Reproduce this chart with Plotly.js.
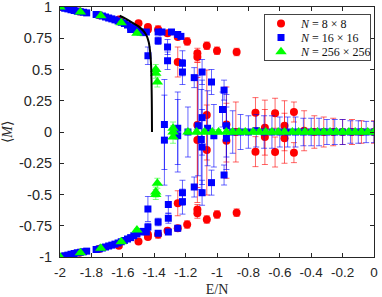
<!DOCTYPE html>
<html>
<head>
<meta charset="utf-8">
<script src="https://cdn.plot.ly/plotly-3.0.1.min.js"></script>
<style>html,body{margin:0;padding:0;background:#fff;}#chart{width:382px;height:297px;}</style>
</head>
<body>
<div id="chart"></div>
<script>
// ---- N = 8 x 8 (red circles) ----
var redX = [-2, -2, -1.875, -1.875, -1.75, -1.75, -1.625, -1.625, -1.5, -1.5,
  -1.44, -1.44, -1.44, -1.44, -1.375, -1.375, -1.315, -1.315, -1.25, -1.25, -1.25, -1.25,
  -1.19, -1.19, -1.125, -1.125, -1.125, -1.125, -1.065, -1.065, -1.0, -1.0, -0.875, -0.875,
  -1.125, -1.125, -1.065, -1.065, -0.94, -0.94, -0.88,
  -0.755, -0.755, -0.695, -0.695, -0.63, -0.63, -0.57, -0.57, -0.51, -0.51,
  -0.445, -0.38, -0.32, -0.26, -0.2, -0.14, -0.08, 0];
var redY = [1, -1, 0.965, -0.965, 0.935, -0.935, 0.9, -0.91, 0.87, -0.875,
  0.84, 0.82, -0.84, -0.82, 0.82, -0.82, 0.79, -0.79, 0.76, -0.77, 0.56, -0.57,
  0.725, -0.74, 0.63, 0.6, -0.62, -0.65, 0.69, -0.7, 0.65, -0.66, 0.64, -0.645,
  0.056, -0.064, 0.136, -0.144, 0.06, -0.07, 0.0,
  0.155, -0.157, 0.035, -0.04, 0.15, -0.16, 0.05, -0.05, 0.16, -0.165,
  0.01, 0.0, 0.0, 0.0, 0.0, 0.0, 0.0, 0.0];
var redErr = [0, 0, 0.01, 0.01, 0.01, 0.01, 0.01, 0.01, 0.015, 0.015,
  0.02, 0.02, 0.02, 0.02, 0.03, 0.03, 0.02, 0.02, 0.02, 0.02, 0.12, 0.1,
  0.03, 0.03, 0.04, 0.04, 0.04, 0.04, 0.03, 0.03, 0.03, 0.03, 0.03, 0.03,
  0.5, 0.5, 0.36, 0.36, 0.3, 0.3, 0.24,
  0.12, 0.12, 0.22, 0.22, 0.12, 0.12, 0.2, 0.2, 0.08, 0.08,
  0.16, 0.13, 0.12, 0.11, 0.1, 0.1, 0.09, 0.09];

// ---- N = 16 x 16 (blue squares) ----
var blueX = [-1.99, -1.97, -1.95, -1.93, -1.91, -1.89, -1.87, -1.85, -1.83,
  -1.77, -1.75, -1.73, -1.71, -1.69, -1.67, -1.65, -1.63, -1.61, -1.59, -1.57, -1.55, -1.55, -1.53, -1.51, -1.49, -1.47, -1.45,
  -1.44, -1.375, -1.375, -1.35, -1.315, -1.315, -1.29, -1.25, -1.23, -1.22, -1.22, -1.145, -1.095, -1.035, -0.955,
  -1.99, -1.97, -1.95, -1.93, -1.91, -1.89, -1.87, -1.85, -1.83,
  -1.77, -1.75, -1.73, -1.71, -1.69, -1.67, -1.65, -1.63, -1.61, -1.59, -1.57, -1.55, -1.53, -1.51, -1.49, -1.47, -1.45,
  -1.44, -1.44, -1.375, -1.375, -1.31, -1.31, -1.31, -1.25, -1.22, -1.22, -1.145, -1.095, -1.035, -0.955,
  -1.335, -1.335, -1.25, -1.25, -1.185, -1.12, -1.1, -1.095, -1.095, -1.06, -1.02, -0.965, -0.94, -0.94,
  -0.9, -0.85, -0.8, -0.75, -0.7, -0.65, -0.6, -0.55, -0.5, -0.45, -0.4, -0.35, -0.3, -0.25, -0.2, -0.15, -0.1, -0.05, 0];
var blueY = [0.998, 0.99, 0.985, 0.978, 0.972, 0.966, 0.962, 0.958, 0.953,
  0.94, 0.935, 0.928, 0.92, 0.912, 0.905, 0.897, 0.888, 0.878, 0.868, 0.856, 0.842, 0.82, 0.83, 0.815, 0.8, 0.795, 0.8,
  0.61, 0.8, 0.73, 0.8, 0.68, 0.57, 0.8, 0.78, 0.765, 0.55, 0.48, 0.435, 0.48, 0.4, 0.335,
  -0.998, -0.99, -0.985, -0.978, -0.972, -0.966, -0.962, -0.958, -0.953,
  -0.94, -0.935, -0.928, -0.92, -0.912, -0.905, -0.897, -0.888, -0.878, -0.868, -0.856, -0.845, -0.83, -0.815, -0.8, -0.795, -0.8,
  -0.616, -0.76, -0.72, -0.81, -0.58, -0.69, -0.8, -0.77, -0.486, -0.557, -0.44, -0.486, -0.405, -0.344,
  0.06, -0.065, 0.03, -0.03, 0.0, 0.05, -0.06, 0.115, -0.12, 0.03, -0.03, 0.18, 0.05, -0.05,
  0, 0, 0, 0.01, 0, 0, 0, 0, 0, 0, 0, 0, 0, 0, 0, 0, 0, 0, 0];
var blueErr = [0.005, 0.005, 0.005, 0.005, 0.005, 0.005, 0.005, 0.005, 0.005,
  0.01, 0.01, 0.01, 0.01, 0.01, 0.01, 0.01, 0.01, 0.01, 0.01, 0.01, 0.01, 0.01, 0.01, 0.01, 0.01, 0.01, 0.01,
  0.07, 0.02, 0.03, 0.02, 0.06, 0.07, 0.02, 0.02, 0.02, 0.1, 0.1, 0.08, 0.1, 0.1, 0.08,
  0.005, 0.005, 0.005, 0.005, 0.005, 0.005, 0.005, 0.005, 0.005,
  0.01, 0.01, 0.01, 0.01, 0.01, 0.01, 0.01, 0.01, 0.01, 0.01, 0.01, 0.01, 0.01, 0.01, 0.01, 0.01, 0.01,
  0.1, 0.03, 0.03, 0.02, 0.07, 0.04, 0.02, 0.02, 0.1, 0.1, 0.08, 0.1, 0.1, 0.08,
  0.36, 0.36, 0.29, 0.29, 0.2, 0.4, 0.4, 0.3, 0.3, 0.3, 0.25, 0.14, 0.25, 0.25,
  0.17, 0.14, 0.13, 0.13, 0.13, 0.13, 0.12, 0.12, 0.12, 0.11, 0.11, 0.11, 0.1, 0.1, 0.1, 0.09, 0.09, 0.085, 0.085];

// ---- N = 256 x 256 (green triangles) ----
var greenX = [-2, -1.87, -1.74, -1.61, -1.51, -1.39, -1.39, -1.38,
  -2, -1.87, -1.74, -1.61, -1.51, -1.39, -1.39, -1.38,
  -1.28, -1.28, -1.28, -1.185, -1.13, -1.08, -1.03, -0.99, -0.94, -0.9, -0.86, -0.82, -0.77, -0.73, -0.69, -0.65, -0.61,
  -0.57, -0.52, -0.48, -0.44, -0.4, -0.36, -0.32, -0.28, -0.24, -0.2, -0.16, -0.12, -0.08, -0.04, 0];
var greenY = [1, 0.96, 0.93, 0.875, 0.79, 0.5, 0.47, 0.4,
  -1, -0.965, -0.93, -0.878, -0.784, -0.5, -0.48, -0.41,
  0.03, 0.0, -0.04, 0, 0, 0, 0, 0, 0, 0, 0, 0, 0, 0, 0, 0, 0,
  0, 0, 0, 0, 0, 0, 0, 0, 0, 0, 0, 0, 0, 0, 0];
var greenErr = [0, 0.005, 0.005, 0.01, 0.01, 0.04, 0.04, 0.04,
  0, 0.005, 0.005, 0.01, 0.01, 0.04, 0.04, 0.04,
  0.05, 0.05, 0.05, 0.02, 0.02, 0.02, 0.02, 0.02, 0.02, 0.02, 0.02, 0.02, 0.02, 0.02, 0.02, 0.02, 0.02,
  0.02, 0.02, 0.02, 0.02, 0.02, 0.02, 0.02, 0.02, 0.02, 0.02, 0.02, 0.02, 0.02, 0.02, 0.02];

// ---- exact curve (black line) ----
var exactX = [-1.62, -1.58, -1.54, -1.5, -1.47, -1.45, -1.435, -1.425, -1.42, -1.417, -1.415, -1.414];
var exactY = [0.93, 0.905, 0.875, 0.845, 0.81, 0.775, 0.72, 0.63, 0.54, 0.4, 0.2, 0.0];

var seriesNames = ['<i>N</i> = 8 × 8', '<i>N</i> = 16 × 16', '<i>N</i> = 256 × 256'];
var xTicks = [-2, -1.8, -1.6, -1.4, -1.2, -1, -0.8, -0.6, -0.4, -0.2, 0];
var xTickText = ['-2', '-1.8', '-1.6', '-1.4', '-1.2', '-1', '-0.8', '-0.6', '-0.4', '-0.2', '0'];
var yTicks = [-1, -0.75, -0.5, -0.25, 0, 0.25, 0.5, 0.75, 1];
var yTickText = ['-1', '-0.75', '-0.5', '-0.25', '0', '0.25', '0.5', '0.75', '1'];

var axisColor = '#262626';
var traces = [
  {x: redX, y: redY, type: 'scatter', mode: 'markers', name: seriesNames[0],
   marker: {symbol: 'circle', size: 8, color: '#ff0000'},
   error_y: {type: 'data', array: redErr, visible: true, color: 'rgba(255,0,0,0.6)', thickness: 1, width: 3}},
  {x: blueX, y: blueY, type: 'scatter', mode: 'markers', name: seriesNames[1],
   marker: {symbol: 'square', size: 7, color: '#0000ff'},
   error_y: {type: 'data', array: blueErr, visible: true, color: 'rgba(0,0,255,0.6)', thickness: 1, width: 3}},
  {x: greenX, y: greenY, type: 'scatter', mode: 'markers', name: seriesNames[2],
   marker: {symbol: 'triangle-up', size: 10, color: '#00ff00'},
   error_y: {type: 'data', array: greenErr, visible: true, color: 'rgba(0,255,0,0.5)', thickness: 1, width: 3}},
  {x: exactX, y: exactY, type: 'scatter', mode: 'lines', showlegend: false,
   line: {color: '#000000', width: 2, shape: 'spline'}}
];

var layout = {
  width: 382, height: 297,
  margin: {l: 60, r: 3, t: 7, b: 40},
  paper_bgcolor: '#ffffff', plot_bgcolor: '#ffffff',
  font: {family: 'Liberation Sans, Arial, sans-serif', size: 13, color: axisColor},
  xaxis: {range: [-2, 0], tickvals: xTicks, ticktext: xTickText, ticks: 'inside', ticklen: 4,
    tickcolor: axisColor, showline: true, linecolor: axisColor, linewidth: 1, mirror: 'ticks',
    showgrid: false, zeroline: false, ticklabelstandoff: 3, ticklabeloverflow: 'allow',
    tickfont: {size: 13.5},
    title: {text: 'E/N', font: {family: 'Liberation Serif, serif', size: 14, color: axisColor}, standoff: 4}},
  yaxis: {range: [-1, 1], tickvals: yTicks, ticktext: yTickText, ticks: 'inside', ticklen: 4,
    tickcolor: axisColor, showline: true, linecolor: axisColor, linewidth: 1, mirror: 'ticks',
    showgrid: false, zeroline: false, ticklabelstandoff: 4, ticklabeloverflow: 'allow',
    tickfont: {size: 14.5},
    title: {text: '⟨<i>M</i>⟩', font: {family: 'Liberation Serif, serif', size: 14, color: axisColor}, standoff: 28}},
  legend: {x: 0.64, y: 0.972, xanchor: 'left', yanchor: 'top', bgcolor: '#ffffff',
    bordercolor: '#444444', borderwidth: 1,
    font: {family: 'Liberation Serif, serif', size: 12, color: '#111111'}},
  showlegend: true
};

Plotly.newPlot('chart', traces, layout, {displayModeBar: false, staticPlot: true}).then(function () {
  // compact the legend box to the reference's tighter row spacing
  var leg = document.querySelector('.legend');
  if (!leg) return;
  leg.setAttribute('transform', 'translate(264,14)');
  var bg = leg.querySelector('rect.bg');
  if (bg) { bg.setAttribute('width', 106); bg.setAttribute('height', 46); }
  var items = leg.querySelectorAll('g.traces');
  var rowY = [9.5, 23.5, 37.8];
  items.forEach(function (it, i) {
    var t = it.getAttribute('transform') || '';
    var m = /translate\(\s*([-\d.]+)/.exec(t);
    var x0 = m ? parseFloat(m[1]) : 0;
    it.setAttribute('transform', 'translate(' + (x0 - 4) + ',' + rowY[i] + ')');
  });
});
</script>
</body>
</html>
